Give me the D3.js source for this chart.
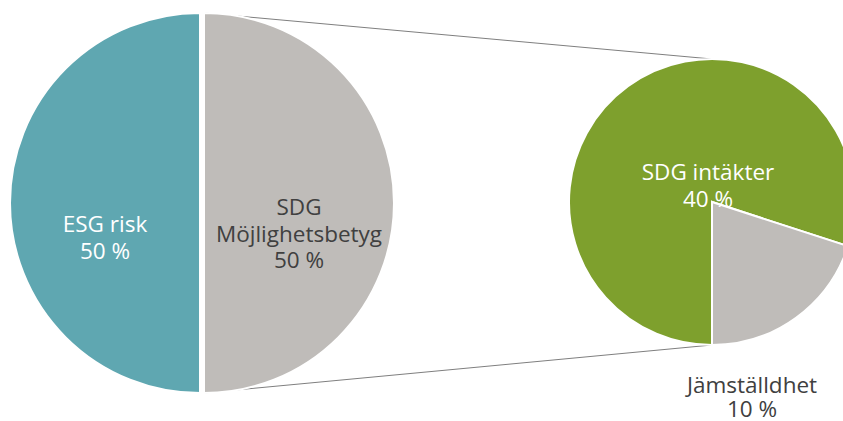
<!DOCTYPE html>
<html>
<head>
<meta charset="utf-8">
<title>ESG pie of pie</title>
<script src="https://d3js.org/d3.v7.min.js"></script>
<style>
  body { margin: 0; background: #fff; }
  svg text { font-family: "Open Sans", sans-serif; font-size: 22.5px; }
</style>
</head>
<body>
<svg width="843" height="421"></svg>
<script>
    // main pie
    var mainLabels = ["ESG risk", "SDG|Möjlighetsbetyg"];
    var mainValues = [50, 50];
    var mainColors = ["#5fa7b1", "#bfbcb9"];
    var mainText = ["#ffffff", "#404040"];

    // breakdown of the SDG slice
    var subLabels = ["SDG intäkter", "Jämställdhet"];
    var subValues = [40, 10];
    var subColors = ["#7ea02d", "#bfbcb9"];
    var subText = ["#ffffff", "#404040"];

    var svg = d3.select("svg");

    var big = {cy: 203, r: 190, explode: [-2, 2], cx: 202};
    var small = {cx: 712, cy: 202, r: 143};

    var pie = d3.pie().sort(null).startAngle(Math.PI).endAngle(3 * Math.PI);

    var bigArc = d3.arc().innerRadius(0).outerRadius(big.r);
    var smallArc = d3.arc().innerRadius(0).outerRadius(small.r);

    // connector lines (top/bottom of SDG slice edge -> top/bottom of small pie)
    var edgeX = big.cx + big.explode[1];
    var conn = svg.append("g")
        .attr("stroke", "#7f7f7f")
        .attr("stroke-width", 1);
    conn.append("line")
        .attr("x1", edgeX).attr("y1", big.cy - big.r)
        .attr("x2", small.cx).attr("y2", small.cy - small.r);
    conn.append("line")
        .attr("x1", edgeX).attr("y1", big.cy + big.r)
        .attr("x2", small.cx).attr("y2", small.cy + small.r);

    var bigArcs = pie(mainValues);
    svg.append("g").selectAll("path")
        .data(bigArcs)
        .join("path")
        .attr("transform", function(d, i) { return "translate(" + (big.cx + big.explode[i]) + "," + big.cy + ")"; })
        .attr("d", bigArc)
        .attr("fill", function(d, i) { return mainColors[i]; })
        .attr("stroke", "#fff")
        .attr("stroke-width", 2);

    var smallArcs = pie(subValues);
    svg.append("g")
        .attr("transform", "translate(" + small.cx + "," + small.cy + ")")
        .selectAll("path")
        .data(smallArcs)
        .join("path")
        .attr("d", smallArc)
        .attr("fill", function(d, i) { return subColors[i]; })
        .attr("stroke", "#fff")
        .attr("stroke-width", 2);

    function lines(label, value) {
        return label.split("|").concat([value + " %"]);
    }

    function drawLabel(x, y, txt, color, step) {
        var t = svg.append("text")
            .attr("text-anchor", "middle")
            .attr("fill", color);
        txt.forEach(function(s, k) {
            t.append("tspan").attr("x", x).attr("y", y + k * (step || 26.5)).text(s);
        });
    }

    // main pie labels: centroid, pushed down a bit like excel does
    bigArcs.forEach(function(d, i) {
        var c = bigArc.centroid(d);
        var txt = lines(mainLabels[i], mainValues[i]);
        var x = big.cx + big.explode[i] + c[0];
        var y = big.cy + 29 - (txt.length - 2) * 17;
        drawLabel(x, y, txt, mainText[i]);
    });

    // small pie labels: first inside, second outside below
    drawLabel(small.cx - 4, small.cy - 22, lines(subLabels[0], subValues[0]), subText[0]);
    drawLabel(small.cx + 40, small.cy + small.r + 48, lines(subLabels[1], subValues[1]), subText[1], 24);
</script>
</body>
</html>
